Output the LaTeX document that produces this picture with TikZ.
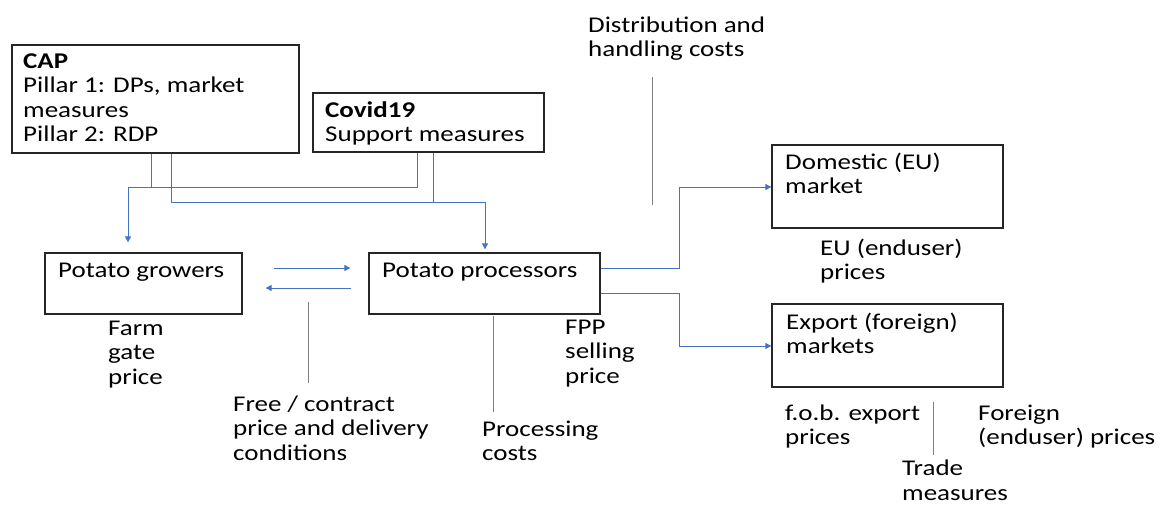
\documentclass[tikz,border=0pt]{standalone}
\usepackage{fontspec}
\setmainfont{Carlito}[FakeStretch=1.2]
\usetikzlibrary{arrows.meta,calc}
\definecolor{conblue}{HTML}{4472C4}
\definecolor{lgray}{HTML}{7F7F7F}
\tikzset{
  boxnode/.style={draw=black!85, line width=1.3pt, rectangle, inner sep=0pt},
  lbl/.style={anchor=base west, align=left, inner sep=0pt, font=\fontsize{22.5}{24.6}\selectfont},
  conn/.style={draw=conblue, line width=0.9pt},
  arr/.style={conn, -{Triangle[length=6pt,width=6pt]}},
  tick/.style={draw=lgray, line width=1pt}
}
\begin{document}
\begin{tikzpicture}[x=1pt,y=-1pt]
\useasboundingbox (0,0) rectangle (1162,504);
% boxes
\node[boxnode, minimum width=287pt, minimum height=108pt] (cap) at (155.5,99) {};
\node[boxnode, minimum width=231pt, minimum height=59pt] (covid) at (428.5,122.5) {};
\node[boxnode, minimum width=197pt, minimum height=61pt] (grow) at (143.5,283.5) {};
\node[boxnode, minimum width=231pt, minimum height=61pt] (proc) at (484.5,283.5) {};
\node[boxnode, minimum width=231pt, minimum height=83pt] (dom) at (887.5,186.5) {};
\node[boxnode, minimum width=231pt, minimum height=83pt] (exp) at (887.5,345.5) {};
% box texts (anchor = baseline of the last line)
\node[lbl] (captxt) at (23,141.8) {\textbf{CAP}\\Pillar 1: DPs, market\\measures\\Pillar 2: RDP};
\node[lbl] (covtxt) at (325,141.6) {\textbf{Covid19}\\Support measures};
\node[lbl] (growtxt) at (58,277) {Potato growers};
\node[lbl] (proctxt) at (382,277) {Potato processors};
\node[lbl] (domtxt) at (785,193.6) {Domestic (EU)\\market};
\node[lbl] (exptxt) at (786,353.6) {Export (foreign)\\markets};
% labels
\node[lbl] (dist) at (588,56.6) {Distribution and\\handling costs};
\node[lbl] (farm) at (108,384.2) {Farm\\gate\\price};
\node[lbl] (free) at (233,460.2) {Free / contract\\price and delivery\\conditions};
\node[lbl] (pcost) at (482,460.6) {Processing\\costs};
\node[lbl] (fpp) at (565,383.2) {FPP\\selling\\price};
\node[lbl] (eu) at (820,279.6) {EU (enduser)\\prices};
\node[lbl] (fob) at (785,444.6) {f.o.b. export\\prices};
\node[lbl] (forp) at (978,444.6) {Foreign\\(enduser) prices};
\node[lbl] (trade) at (902,500) {Trade\\measures};
% junction coordinates
\coordinate (a1) at (151,187);
\coordinate (a2) at (417,187);
\coordinate (a3) at (128,187);
\coordinate (b1) at (171,202);
\coordinate (b2) at (433,202);
\coordinate (b3) at (485,202);
\coordinate (h1) at (0,268);
\coordinate (h2) at (0,288);
\coordinate (h3) at (0,293);
\coordinate (d1) at (679,268);
\coordinate (d2) at (679,187);
\coordinate (e1) at (679,293);
\coordinate (e2) at (679,346);
% policy connectors
\draw[conn] (cap.south -| a1) -- (a1);
\draw[arr, shorten >=10pt] (covid.south -| a2) -- (a2) -- (a3) -- (grow.north -| a3);
\draw[conn] (covid.south -| b2) -- (b2);
\draw[arr, shorten >=3pt] (cap.south -| b1) -- (b1) -- (b3) -- (proc.north -| b3);
% growers <-> processors
\draw[arr, shorten <=31pt, shorten >=18pt] (grow.east |- h1) -- (proc.west |- h1);
\draw[arr, shorten <=17pt, shorten >=23pt] (proc.west |- h2) -- (grow.east |- h2);
% processors -> markets
\draw[arr] (proc.east |- h1) -- (d1) -- (d2) -- (dom.west |- d2);
\draw[arr] (proc.east |- h3) -- (e1) -- (e2) -- (exp.west |- e2);
% gray ticks
\coordinate (g1a) at (308,302); \coordinate (g1b) at (308,383);
\coordinate (g2a) at (493,316); \coordinate (g2b) at (493,412);
\coordinate (g3a) at (652,77);  \coordinate (g3b) at (652,205);
\coordinate (g4a) at (933,402); \coordinate (g4b) at (933,455);
\draw[tick] (g1a) -- (g1b);
\draw[tick] (g2a) -- (g2b);
\draw[tick] (g3a) -- (g3b);
\draw[tick] (g4a) -- (g4b);
\end{tikzpicture}
\end{document}
